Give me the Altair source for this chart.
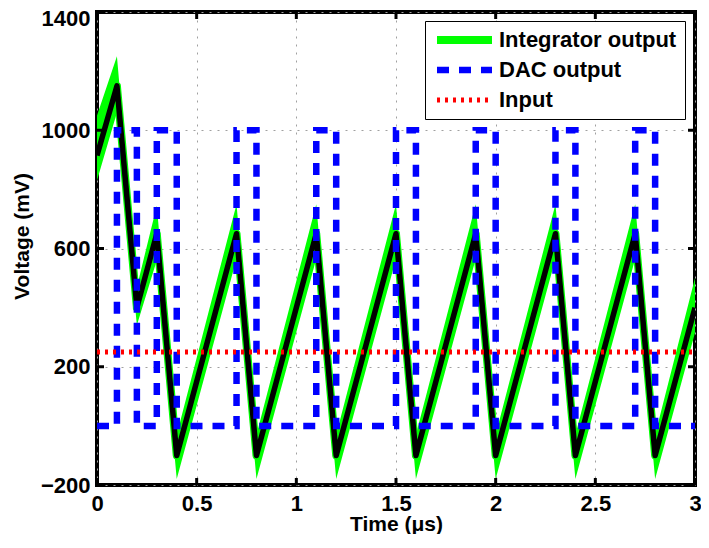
import altair as alt
import pandas as pd

FONT = "Liberation Sans"

# ---- data ----
series = ["Integrator output", "DAC output", "Input"]

t_int = [0.0, 0.1, 0.2, 0.3, 0.4, 0.7, 0.8, 1.1, 1.2, 1.5, 1.6, 1.9, 2.0, 2.3, 2.4, 2.7, 2.8, 3.0]
v_int = [915, 1150, 400, 650, -100, 650, -100, 650, -100, 650, -100, 650, -100, 650, -100, 650, -100, 400]
v_hi = [1050, 1250, 470, 745, -30, 750, -30, 750, -30, 750, -30, 750, -30, 750, -30, 750, -30, 500]
v_lo = [830, 1060, 340, 560, -180, 565, -180, 565, -180, 565, -180, 565, -180, 565, -180, 565, -180, 315]

t_dac = [0.0, 0.1, 0.2, 0.3, 0.4, 0.7, 0.8, 1.1, 1.2, 1.5, 1.6, 1.9, 2.0, 2.3, 2.4, 2.7, 2.8, 3.0]
v_dac = [0, 1000, 0, 1000, 0, 1000, 0, 1000, 0, 1000, 0, 1000, 0, 1000, 0, 1000, 0, 0]

t_in = [0.0, 3.0]
v_in = [250, 250]

x_ticks = [0, 0.5, 1, 1.5, 2, 2.5, 3]
y_ticks = [-200, 200, 600, 1000, 1400]

W, H = 598, 473

integ = pd.DataFrame({"t": t_int, "v": v_int, "hi": v_hi, "lo": v_lo, "series": series[0]})
dac = pd.DataFrame({"t": t_dac, "v": v_dac, "series": series[1]})
inp = pd.DataFrame({"t": t_in, "v": v_in, "series": series[2]})
xt = pd.DataFrame({"t": x_ticks})
yt = pd.DataFrame({"v": y_ticks})

xs = alt.Scale(domain=[0, 3], nice=False, zero=False)
ys = alt.Scale(domain=[-200, 1400], nice=False, zero=False)

grid_kw = dict(grid=True, gridColor="#a0a0a0", gridDash=[2, 6], gridWidth=1,
               ticks=False, tickSize=0, domain=False, labelFlush=False, labelOverlap=False,
               labelFont=FONT, labelFontSize=22, labelFontWeight="bold", labelColor="black",
               titleFont=FONT, titleFontSize=21, titleFontWeight="bold", titleColor="black")

x_axis = alt.Axis(values=x_ticks, title="Time (μs)", format="~g", labelPadding=8,
                  titleY=45, titleBaseline="alphabetic", **grid_kw)
y_axis = alt.Axis(values=y_ticks, title="Voltage (mV)", format="d", labelPadding=7,
                  labelOffset={"condition": {"test": "datum.value == 1400", "value": 6}, "value": 0},
                  titleX=-75, titleY=224, titleBaseline="middle", **grid_kw)

X = alt.X("t:Q", scale=xs, axis=x_axis)
Y = alt.Y("v:Q", scale=ys, axis=y_axis)

legend = alt.Legend(title=None, orient="none", legendX=328, legendY=9,
                    symbolType="stroke", symbolSize=3025, clipHeight=22,
                    labelFont=FONT, labelFontSize=22, labelFontWeight="bold",
                    labelColor="black", labelLimit=400, labelOffset=3,
                    strokeColor="black", fillColor="white", padding=8, rowPadding=8)

color = alt.Color("series:N", scale=alt.Scale(domain=series, range=["#00ff00", "#0000ff", "#ff0000"]),
                  legend=legend)
dash = alt.StrokeDash("series:N", scale=alt.Scale(domain=series, range=[[1, 0], [12, 10], [3, 5]]),
                      legend=legend)
width = alt.StrokeWidth("series:O", scale=alt.Scale(domain=series, range=[8, 5, 3]), legend=legend)

band = alt.Chart(integ).mark_area(color="#00ff00", clip=True).encode(
    x=X, y=alt.Y("hi:Q", scale=ys, axis=y_axis), y2="lo:Q")

green = alt.Chart(integ).mark_line(clip=True, strokeJoin="round", strokeCap="round").encode(
    x=X, y=Y, color=color, strokeDash=dash, strokeWidth=width)

black = alt.Chart(integ).mark_line(clip=True, color="black", strokeWidth=5.5,
                                   strokeJoin="round").encode(x=X, y=Y)

dac_line = alt.Chart(dac).mark_line(clip=True, interpolate="step-after", strokeCap="butt").encode(
    x=X, y=Y, color=color, strokeDash=dash, strokeWidth=width)

in_line = alt.Chart(inp).mark_line(clip=True, strokeCap="butt").encode(
    x=X, y=Y, color=color, strokeDash=dash, strokeWidth=width)

tick_b = alt.Chart(xt).mark_rule(color="black", strokeWidth=3).encode(
    x=X, y=alt.value(H), y2=alt.value(H - 7))
tick_t = alt.Chart(xt).mark_rule(color="black", strokeWidth=3).encode(
    x=X, y=alt.value(0), y2=alt.value(7))
tick_l = alt.Chart(yt).mark_rule(color="black", strokeWidth=3).encode(
    y=Y, x=alt.value(0), x2=alt.value(7))
tick_r = alt.Chart(yt).mark_rule(color="black", strokeWidth=3).encode(
    y=Y, x=alt.value(W), x2=alt.value(W - 7))

chart = alt.layer(band, green, black, dac_line, in_line, tick_b, tick_t, tick_l, tick_r).properties(
    width=W, height=H,
    autosize=alt.AutoSizeParams(type="none"),
    padding={"left": 89, "top": 4, "right": 6, "bottom": 49},
    background="white",
).configure_view(stroke="black", strokeWidth=4)

chart.save("out.html", embed_options={"renderer": "svg", "actions": False})
